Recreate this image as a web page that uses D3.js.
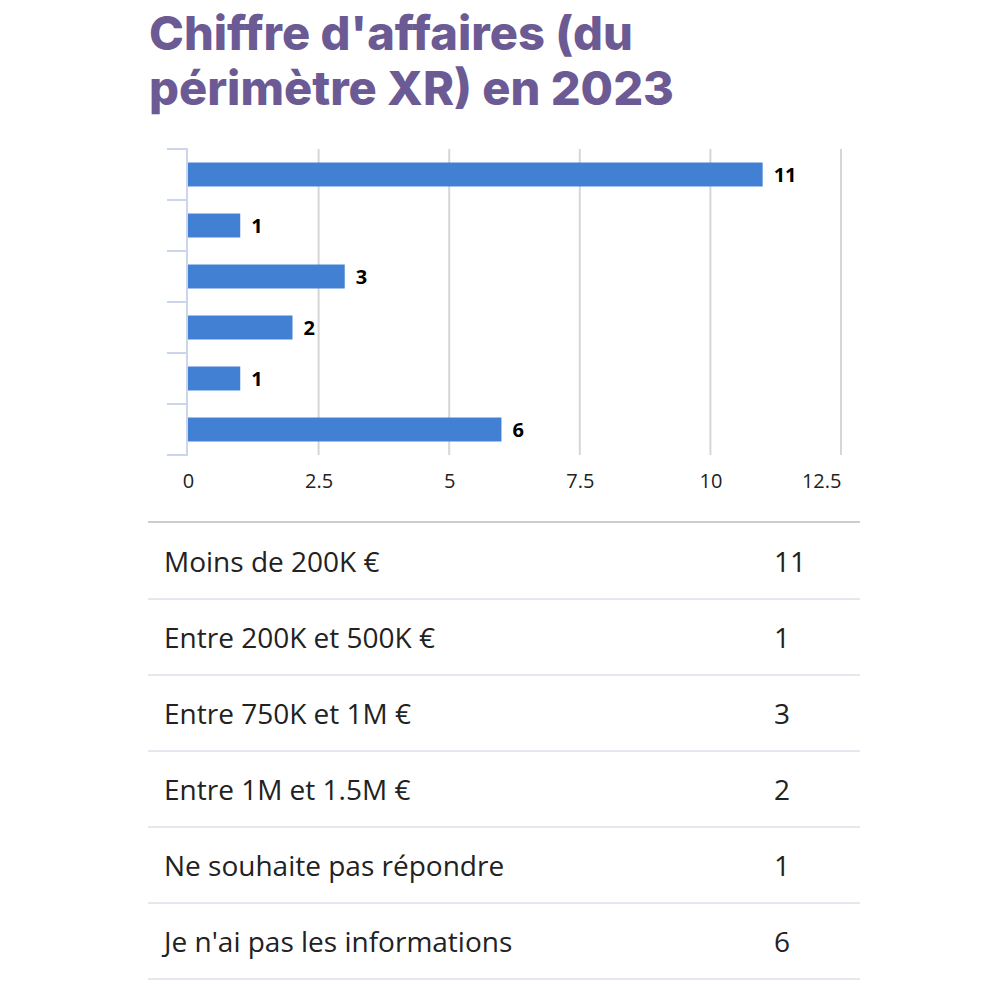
<!DOCTYPE html>
<html><head><meta charset="utf-8">
<script src="https://cdn.jsdelivr.net/npm/d3@7"></script>
<style>html,body{margin:0;padding:0;background:#fff;}</style>
</head><body>
<svg id="c" width="1000" height="1000"></svg>
<script>
const titleLines = ["Chiffre d'affaires (du", "périmètre XR) en 2023"];
const categories = ["Moins de 200K €", "Entre 200K et 500K €", "Entre 750K et 1M €", "Entre 1M et 1.5M €", "Ne souhaite pas répondre", "Je n'ai pas les informations"];
const values = [11, 1, 3, 2, 1, 6];
const xTicks = [0, 2.5, 5, 7.5, 10, 12.5];

const svg = d3.select("#c");

// Title
const title = svg.append("text")
  .attr("font-family", "Inter, sans-serif")
  .attr("font-weight", 800)
  .attr("font-size", 47)
  .attr("fill", "#6b5a94");
titleLines.forEach((t, i) => {
  title.append("tspan").attr("x", 149).attr("y", 50 + i * 55).text(t);
});

// Chart
const x = d3.scaleLinear().domain([0, 12.5]).range([188, 841]);
const y = d3.scaleBand().domain(categories).range([149, 455]).paddingInner(0.53).paddingOuter(0.265);
const yBand = d3.scaleBand().domain(categories).range([149, 455]);

// grid
svg.append("g").selectAll("line").data(xTicks.slice(1)).join("line")
  .attr("x1", d => x(d)).attr("x2", d => x(d))
  .attr("y1", 149).attr("y2", 455)
  .attr("stroke", "#d6d6d6").attr("stroke-width", 2);

// left axis ticks (band boundaries)
const bounds = categories.map(c => yBand(c)).concat([455]);
svg.append("g").selectAll("line").data(bounds).join("line")
  .attr("x1", 167).attr("x2", 187)
  .attr("y1", d => d).attr("y2", d => d)
  .attr("stroke", "#ccd6eb").attr("stroke-width", 2);
svg.append("line").attr("x1", 187).attr("x2", 187).attr("y1", 148).attr("y2", 456)
  .attr("stroke", "#ccd6eb").attr("stroke-width", 2);

// bars
svg.append("g").selectAll("rect").data(values).join("rect")
  .attr("x", x(0)).attr("y", (d, i) => y(categories[i]))
  .attr("width", d => x(d) - x(0)).attr("height", y.bandwidth())
  .attr("fill", "#4180d3");

// value labels
svg.append("g").selectAll("text").data(values).join("text")
  .attr("x", d => x(d) + 11).attr("y", (d, i) => y(categories[i]) + y.bandwidth() / 2)
  .attr("dy", "0.36em")
  .attr("font-family", "'Open Sans', sans-serif").attr("font-weight", 700)
  .attr("font-size", 20).attr("fill", "#000")
  .text(d => d);

// x axis labels
const xAxis = d3.axisBottom(x).tickValues(xTicks).tickSize(0).tickPadding(0).tickFormat(d3.format("~g"));
const gx = svg.append("g").attr("transform", "translate(0,474)").call(xAxis);
gx.select(".domain").remove();
gx.selectAll("text").attr("font-family", "'Open Sans', sans-serif").attr("font-size", 20).attr("fill", "#222").attr("dy", "0.71em");
gx.selectAll("text").filter(d => d === xTicks[xTicks.length - 1]).attr("text-anchor", "end");

// Table
const rowTop = 522, rowH = 76;
svg.append("line").attr("x1", 148).attr("x2", 860).attr("y1", rowTop).attr("y2", rowTop)
  .attr("stroke", "#cccccc").attr("stroke-width", 2);
const rows = svg.append("g").selectAll("g").data(categories).join("g")
  .attr("transform", (d, i) => `translate(0,${rowTop + i * rowH})`);
rows.append("line").attr("x1", 148).attr("x2", 860).attr("y1", rowH + 1).attr("y2", rowH + 1)
  .attr("stroke", "#e5e7ee").attr("stroke-width", 2);
rows.append("text").attr("x", 164).attr("y", rowH / 2 + 2).attr("dy", "0.35em")
  .attr("font-family", "'Open Sans', sans-serif").attr("font-size", 28).attr("fill", "#222")
  .text(d => d);
rows.append("text").attr("x", 774).attr("y", rowH / 2 + 2).attr("dy", "0.35em")
  .attr("font-family", "'Open Sans', sans-serif").attr("font-size", 28).attr("fill", "#222")
  .text((d, i) => values[i]);
</script>
</body></html>
